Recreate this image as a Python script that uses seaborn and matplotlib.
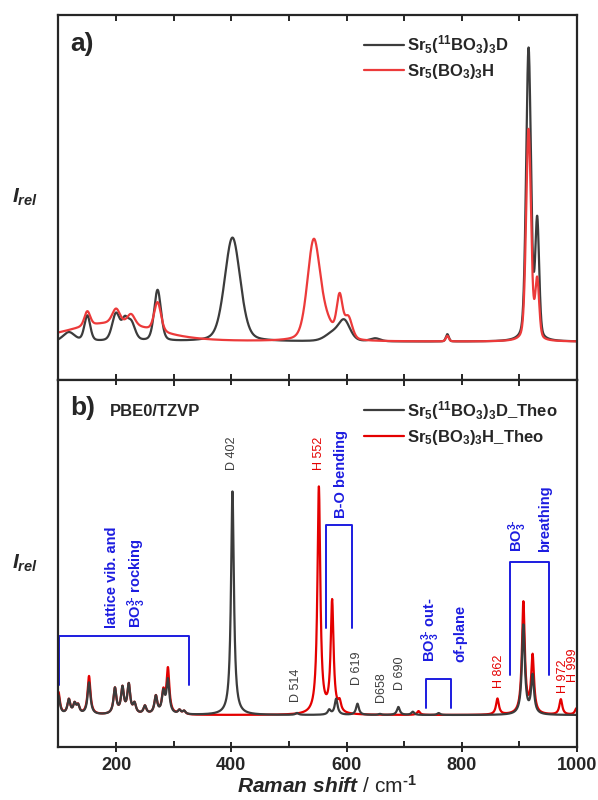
import numpy as np
import pandas as pd
import seaborn as sns
import matplotlib.pyplot as plt
from matplotlib.ticker import MultipleLocator
from matplotlib.lines import Line2D

# Raman shift axis (cm-1)
shift = np.linspace(100, 1000, 3601)

# a) experimental spectra: band position, height, half width
exp_D_pos = [118, 150, 200, 215, 226, 272, 402, 575, 596, 650, 775, 916, 931]
exp_D_amp = [0.025, 0.07, 0.075, 0.045, 0.05, 0.14, 0.285, 0.02, 0.055, 0.008, 0.02, 0.80, 0.32]
exp_D_wid = [12, 6, 8, 6, 8, 7, 16, 15, 12, 10, 3, 5, 4]

exp_H_pos = [190, 150, 200, 226, 272, 543, 565, 588, 603, 775, 916, 931]
exp_H_amp = [0.05, 0.04, 0.04, 0.03, 0.08, 0.27, 0.04, 0.11, 0.06, 0.015, 0.58, 0.16]
exp_H_wid = [90, 6, 8, 8, 7, 13, 15, 6, 8, 3, 5, 4]

# b) PBE0/TZVP calculated spectra
th_D_pos = [100, 118, 128, 134, 153, 198, 211, 222, 232, 250, 269, 282, 290, 310, 318,
            402, 514, 570, 582, 619, 658, 690, 715, 760, 907, 923]
th_D_amp = [0.06, 0.045, 0.03, 0.025, 0.10, 0.08, 0.08, 0.09, 0.03, 0.025, 0.055, 0.065, 0.105, 0.012, 0.01,
            0.70, 0.006, 0.015, 0.05, 0.035, 0.003, 0.025, 0.01, 0.006, 0.28, 0.12]
th_H_pos = [100, 118, 128, 134, 153, 198, 211, 222, 232, 250, 269, 282, 290, 310, 318,
            552, 575, 588, 725, 862, 907, 923, 972, 999]
th_H_amp = [0.07, 0.045, 0.03, 0.025, 0.12, 0.08, 0.08, 0.09, 0.03, 0.025, 0.055, 0.065, 0.14, 0.012, 0.01,
            0.71, 0.35, 0.03, 0.012, 0.05, 0.35, 0.18, 0.048, 0.02]
th_width = 3.0

labels_a = ["Sr$_5$($^{11}$BO$_3$)$_3$D", "Sr$_5$(BO$_3$)$_3$H"]
labels_b = ["Sr$_5$($^{11}$BO$_3$)$_3$D_Theo", "Sr$_5$(BO$_3$)$_3$H_Theo"]

# peak assignments
peak_txt = ["D 402", "H 552", "D 514", "D 619", "D658", "D 690", "H 862", "H 972", "H 999"]
peak_x = [402, 553, 512, 619, 659, 692, 864, 975, 994]
peak_y = [0.768, 0.768, 0.041, 0.094, 0.041, 0.079, 0.085, 0.069, 0.104]


def band_sum(x, pos, amp, wid, eta=1.0):
    # pseudo-Voigt bands, eta = lorentzian fraction
    y = np.zeros_like(x)
    if np.isscalar(wid):
        wid = [wid] * len(pos)
    for p, a, w in zip(pos, amp, wid):
        d = (x - p) / w
        y += a * (eta / (1 + d ** 2) + (1 - eta) * np.exp(-np.log(2) * d ** 2))
    return y


df_a = pd.DataFrame({
    "shift": np.concatenate([shift, shift]),
    "I": np.concatenate([band_sum(shift, exp_D_pos, exp_D_amp, exp_D_wid, 0.3),
                         band_sum(shift, exp_H_pos, exp_H_amp, exp_H_wid, 0.3)]),
    "sample": [labels_a[0]] * len(shift) + [labels_a[1]] * len(shift),
})
df_b = pd.DataFrame({
    "shift": np.concatenate([shift, shift]),
    "I": np.concatenate([band_sum(shift, th_D_pos, th_D_amp, th_width),
                         band_sum(shift, th_H_pos, th_H_amp, th_width)]),
    "sample": [labels_b[0]] * len(shift) + [labels_b[1]] * len(shift),
})

sns.set_style("ticks")
plt.rcParams['font.family'] = ['Liberation Sans', 'DejaVu Sans']
plt.rcParams['font.weight'] = 'bold'
plt.rcParams['mathtext.fontset'] = 'custom'
plt.rcParams['mathtext.rm'] = 'Liberation Sans:bold'
plt.rcParams['mathtext.it'] = 'Liberation Sans:italic:bold'
plt.rcParams['mathtext.bf'] = 'Liberation Sans:bold'
plt.rcParams['axes.linewidth'] = 1.6

gray = '#3c3c3c'
red_a = '#ec3a3a'
red_b = '#e40000'
blue = '#1c1ce0'

fig = plt.figure(figsize=(5.98, 8), dpi=100)
ax_a = fig.add_axes([0.0978, 0.525, 0.867, 0.456])
ax_b = fig.add_axes([0.0978, 0.06625, 0.867, 0.459])

# panel a: red drawn on top
sns.lineplot(data=df_a, x="shift", y="I", hue="sample", hue_order=labels_a,
             palette=[gray, red_a], lw=1.6, ax=ax_a, legend=False)
# panel b: gray drawn on top
sns.lineplot(data=df_b, x="shift", y="I", hue="sample", hue_order=labels_b[::-1],
             palette=[red_b, gray], lw=1.6, ax=ax_b, legend=False)

ax_a.set_ylim(-0.105, 0.895)
ax_b.set_ylim(-0.1, 1.05)

for ax in (ax_a, ax_b):
    ax.set_xlim(100, 1000)
    ax.set_yticks([])
    ax.set_ylabel("$\\mathit{I_{rel}}$", fontsize=15, rotation=0, labelpad=24, va='center')
    ax.xaxis.set_ticks_position('both')
    ax.xaxis.set_major_locator(MultipleLocator(200))
    ax.xaxis.set_minor_locator(MultipleLocator(100))
    ax.tick_params(axis='x', which='major', direction='inout', length=7, width=1.4,
                   labelsize=13, top=True)
    ax.tick_params(axis='x', which='minor', direction='in', length=4, width=1.4, top=True)

ax_a.tick_params(axis='x', which='major', direction='in', length=4, labelbottom=False)
ax_a.set_xlabel("")
ax_b.set_xlabel("$\\mathit{Raman\\ shift}$ / cm$^{\\text{-}1}$", fontsize=15)
ax_b.xaxis.set_label_coords(0.518, -0.076)

# legends
h_a = [Line2D([], [], color=gray, lw=1.6), Line2D([], [], color=red_a, lw=1.6)]
ax_a.legend(h_a, labels_a, loc='upper left', bbox_to_anchor=(0.589, 0.951), frameon=False,
            borderpad=0, borderaxespad=0, handlelength=2.4, handletextpad=0.2,
            labelspacing=0.35, prop={'weight': 'bold', 'size': 12})
h_b = [Line2D([], [], color=gray, lw=1.6), Line2D([], [], color=red_b, lw=1.6)]
ax_b.legend(h_b, labels_b, loc='upper left', bbox_to_anchor=(0.589, 0.948), frameon=False,
            borderpad=0, borderaxespad=0, handlelength=2.4, handletextpad=0.2,
            labelspacing=0.35, prop={'weight': 'bold', 'size': 12})

ax_a.text(0.022, 0.955, "a)", transform=ax_a.transAxes, fontsize=19, fontweight='bold', va='top')
ax_b.text(0.022, 0.955, "b)", transform=ax_b.transAxes, fontsize=19, fontweight='bold', va='top')
ax_b.text(0.1, 0.935, "PBE0/TZVP", transform=ax_b.transAxes, fontsize=12, fontweight='bold', va='top')


# assignment brackets
def bracket(ax, x0, x1, top, bottom):
    ax.plot([x0, x0, x1, x1], [bottom, top, top, bottom], color=blue, lw=1.4, clip_on=False)


bracket(ax_b, 101, 327, 0.248, 0.094)
bracket(ax_b, 565, 609, 0.596, 0.273)
bracket(ax_b, 738, 781, 0.113, 0.022)
bracket(ax_b, 883, 951, 0.48, 0.126)

kw = dict(rotation=90, ha='center', va='bottom', color=blue, fontsize=10.5, fontweight='bold')
ion = "BO$_3^{3\\text{-}}$"
ax_b.text(193, 0.273, "lattice vib. and", **kw)
ax_b.text(236, 0.273, ion + " rocking", **kw)
ax_b.text(590, 0.618, "B-O bending", **kw)
ax_b.text(746, 0.166, ion + " out-", **kw)
ax_b.text(797, 0.166, "of-plane", **kw)
ax_b.text(898, 0.511, ion, **kw)
ax_b.text(945, 0.511, "breathing", **kw)

for t, x, y in zip(peak_txt, peak_x, peak_y):
    c = red_b if t.startswith("H") else gray
    ax_b.text(x, y, t, rotation=90, ha='center', va='bottom', color=c, fontsize=9,
              fontweight='normal')

fig.savefig("out.png", dpi=100)
